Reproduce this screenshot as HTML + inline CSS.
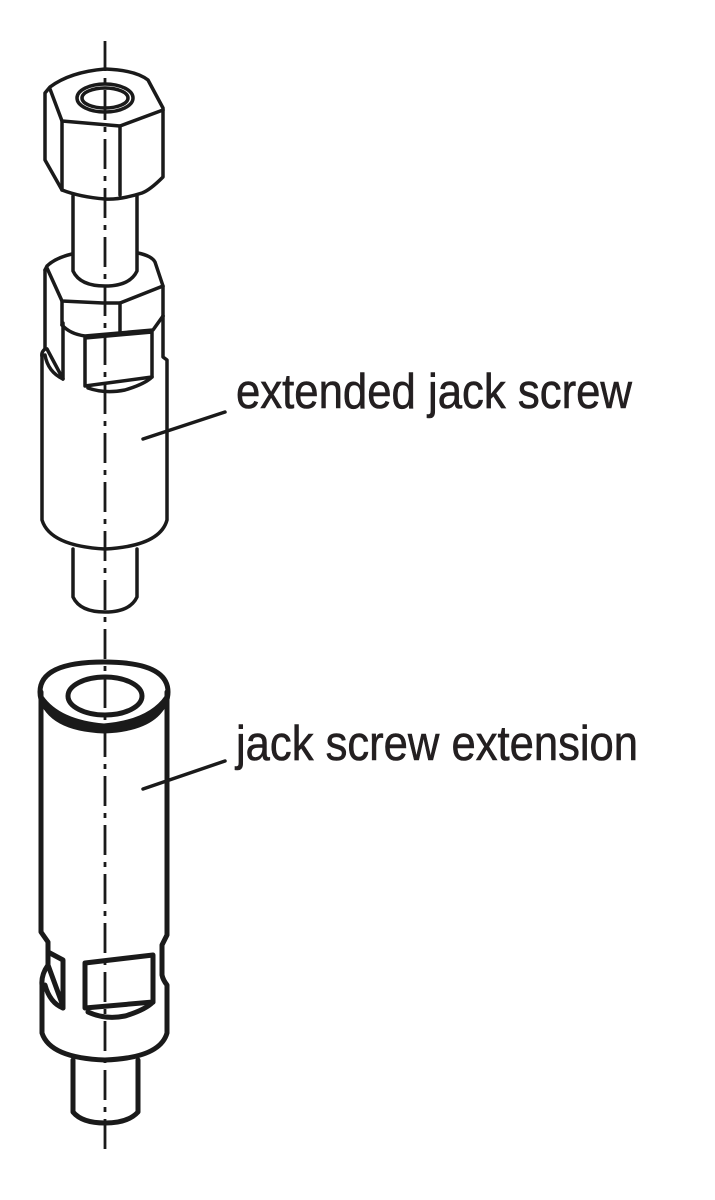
<!DOCTYPE html>
<html><head><meta charset="utf-8"><style>
html,body{margin:0;padding:0;background:#fff;}
svg{display:block;}
text{font-family:"Liberation Sans Narrow","Liberation Sans",sans-serif;fill:#231f20;stroke:#231f20;stroke-width:0.6;}
</style></head><body>
<svg width="715" height="1200" viewBox="0 0 715 1200" xmlns="http://www.w3.org/2000/svg">
<g fill="none" stroke="#1a1a1a" stroke-linejoin="round" stroke-linecap="round">
<line x1="105" y1="41" x2="105" y2="1155" stroke-width="2.8" stroke-dasharray="30,7,5,7" stroke-linecap="butt"/>

<g stroke-width="3.5">
<path d="M45,93 L50,87 Q70,72 105,69 Q135,70 148,80 L163,108 L163,177 Q150,190 142,193 Q120,200 105,199 Q80,197 62,190 L45,160 Z"/>
<path d="M50,89 L62,121 L120,126 L163,110"/>
<line x1="62" y1="121" x2="62" y2="190"/>
<line x1="120" y1="126" x2="120" y2="195"/>
<ellipse cx="105" cy="98" rx="28" ry="14"/>
<ellipse cx="105" cy="98" rx="23" ry="10"/>
<path d="M73,196 L73,271 Q80,286 105,286 Q130,286 137,271 L137,196"/>
<path d="M45,270 L47,266 Q55,258 72,254"/>
<path d="M138,253 Q152,256 155,262 L163,286 L163,316"/>
<line x1="45" y1="270" x2="45" y2="349"/>
<path d="M47,268 L62,301 L103,303 L120,303 L163,286"/>
<line x1="62" y1="301" x2="62" y2="325"/>
<line x1="120" y1="303" x2="120" y2="331"/>
<path d="M62,325 Q70,334 85,336 L153,330 L163,316"/>
<path d="M45,349 Q41,352 42,357 L42,520 Q50,546 105,549 Q160,546 167,520 L167,360 L163,357 L163,316"/>
<path d="M47,349 L63,379 L63,323"/>
<path d="M45,355 Q48,372 63,379"/>
<path d="M85,338 L152,332 L152,377 L85,386 Z"/>
<path d="M88,388 Q105,394 125,390 Q145,384 152,377"/>
<path d="M73,549 L73,597 Q80,612 105,612 Q130,612 137,597 L137,549"/>
</g>

<g stroke-width="5">
<path d="M40,692 Q40,662 104,662 Q168,662 168,692 Q168,722 104,727 Q40,722 40,692 Z"/>
<path d="M41,697 Q50,729 104,731 Q158,729 167,697 Q150,722 104,726 Q58,722 41,697 Z" fill="#1a1a1a"/>
<ellipse cx="105" cy="696" rx="37" ry="19"/>
<path d="M41,692 L41,932 L48,942 L48,965 Q41,975 42,985 L42,1033 Q50,1058 105,1060 Q160,1058 167,1033 L167,985 Q163,980 162,975 L162,945 L167,935 L167,692"/>
<path d="M48,952 L63,960 L63,1008"/>
<path d="M48,965 L63,1006"/>
<path d="M45,985 Q50,1003 63,1008"/>
<path d="M85,963 L153,955 L153,1002 L85,1008 Z"/>
<path d="M88,1012 Q105,1020 125,1016 Q145,1010 153,1002"/>
<path d="M73,1060 L73,1112 Q82,1123 105,1123 Q128,1123 138,1112 L138,1060"/>
</g>

<line x1="143" y1="439" x2="225" y2="412" stroke-width="3.5"/>
<line x1="143" y1="789" x2="225" y2="761" stroke-width="3.5"/>
</g>
<text x="236" y="408" font-size="49" textLength="396" lengthAdjust="spacingAndGlyphs">extended jack screw</text>
<text x="236" y="760" font-size="49" textLength="402" lengthAdjust="spacingAndGlyphs">jack screw extension</text>
</svg>
</body></html>
